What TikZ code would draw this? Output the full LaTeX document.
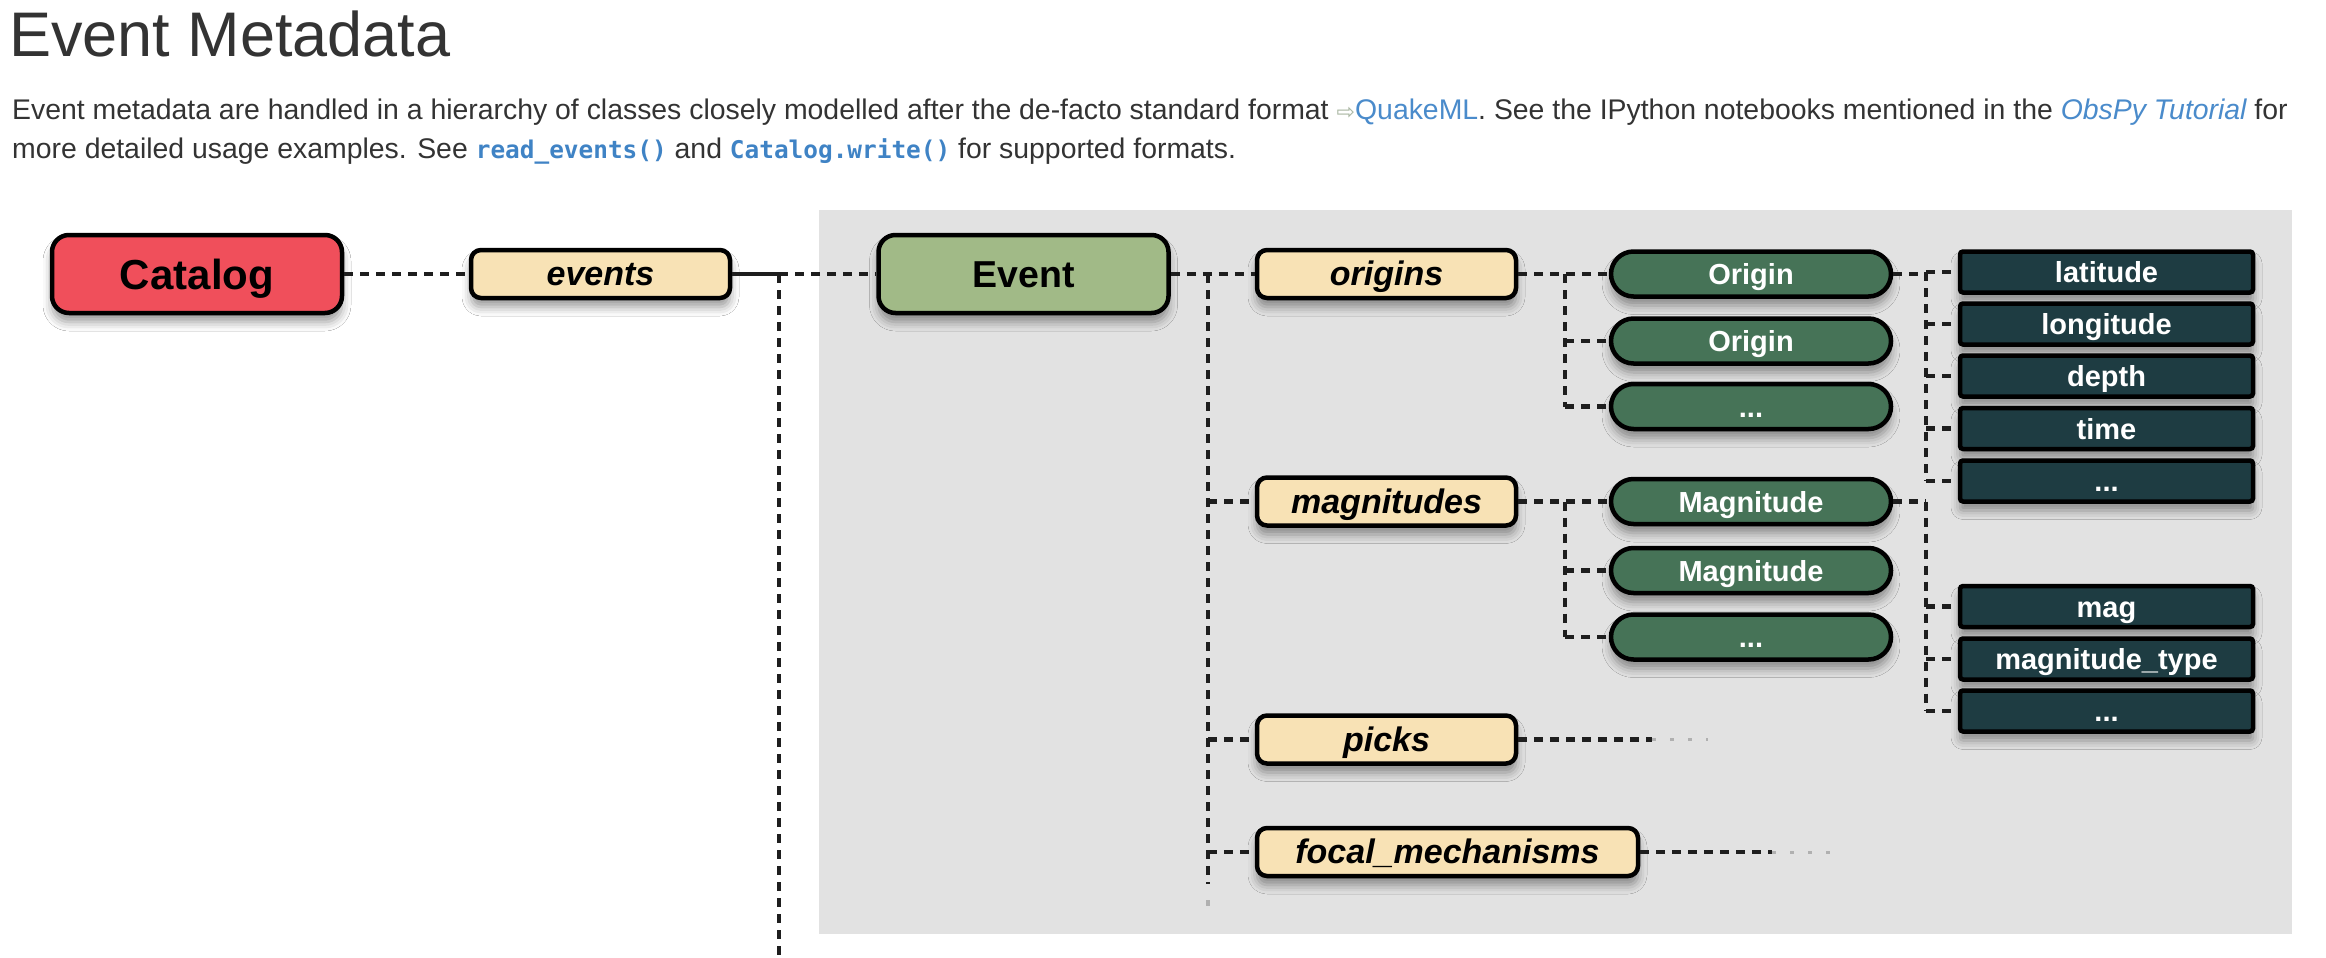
\documentclass[tikz,border=0pt]{standalone}
\usepackage{fontspec}
\setmainfont{Liberation Sans}
\newfontfamily\codefont{DejaVu Sans Mono}
\newfontfamily\symfont{DejaVu Sans}
\usetikzlibrary{shapes.misc,shadows.blur,calc}
\definecolor{catred}{HTML}{F04F5B}
\definecolor{beige}{HTML}{F8E2B5}
\definecolor{evgreen}{HTML}{A1BA87}
\definecolor{objgreen}{HTML}{467357}
\definecolor{attrteal}{HTML}{1E3C42}
\definecolor{panelgray}{HTML}{E2E2E2}
\definecolor{textcol}{HTML}{333333}
\definecolor{linkblue}{HTML}{4A8BCB}
\definecolor{codeblue}{HTML}{3F83C5}
\definecolor{icongray}{HTML}{A9B6A2}
\definecolor{linecol}{HTML}{1E1E1E}
\definecolor{fadecol}{HTML}{B0B0B0}
\begin{document}
\begin{tikzpicture}[x=1pt,y=-1pt,
  shade/.style={blur shadow={shadow xshift=0pt,shadow yshift=-9pt,shadow blur radius=9pt,shadow opacity=40}},
  basebox/.style={draw=black,line width=4.5pt,inner sep=0pt,text depth=0pt,shade},
  bigbox/.style={basebox,rounded corners=17pt,minimum width=290pt,minimum height=78pt,text height=30pt,
    font=\fontsize{42}{48}\selectfont\bfseries},
  listbox/.style={basebox,fill=beige,rounded corners=10pt,minimum width=259pt,minimum height=48pt,text height=23pt,
    font=\fontsize{34}{40}\selectfont\bfseries\itshape},
  objbox/.style={basebox,rounded rectangle,fill=objgreen,text=white,minimum width=280pt,minimum height=45pt,text height=21pt,
    font=\fontsize{29}{34}\selectfont\bfseries},
  attrbox/.style={basebox,fill=attrteal,text=white,rounded corners=3pt,minimum width=293pt,minimum height=41pt,text height=21pt,
    font=\fontsize{29}{34}\selectfont\bfseries},
  conn/.style={draw=linecol,line width=4.5pt,dash pattern=on 9pt off 7pt},
  fade/.style={draw=fadecol,line width=3pt,dash pattern=on 4pt off 14pt},
  para/.style={anchor=base west,inner sep=0pt,text=textcol,font=\fontsize{28.4}{34}\selectfont}
]
\useasboundingbox (0,0) rectangle (2326,958);
\fill[white] (0,0) rectangle (2326,958);

% heading and paragraph
\node[anchor=base west,inner sep=0pt,text=textcol,font=\fontsize{63}{72}\selectfont] (title) at (9,57) {Event Metadata};
\node[para] (line1) at (12,119) {Event metadata are handled in a hierarchy of classes closely modelled after the de-facto standard format {\color{icongray}\symfont\fontsize{22}{26}\selectfont ⇨}{\color{linkblue}QuakeML}. See the IPython notebooks mentioned in the {\color{linkblue}\itshape ObsPy Tutorial} for};
\node[para] (line2) at (12,158) {more detailed usage examples. See {\codefont\bfseries\fontsize{24.4}{30}\selectfont\color{codeblue}read\_events()} and {\codefont\bfseries\fontsize{24.4}{30}\selectfont\color{codeblue}Catalog.write()} for supported formats.};

% panel
\fill[panelgray] (819,210) rectangle (2292,934);

% nodes
\node[bigbox,fill=catred] (catalog) at (197,274) {Catalog};
\node[listbox] (events) at (600.5,274) {events};
\node[bigbox,fill=evgreen,text height=27pt,font=\fontsize{37.5}{44}\selectfont\bfseries] (event) at (1023.5,274) {Event};

\node[listbox] (origins) at (1386.5,274) {origins};
\node[listbox] (magnitudes) at (1386.5,501.5) {magnitudes};
\node[listbox] (picks) at (1386.5,739.5) {picks};
\node[listbox,minimum width=381pt] (focal) at (1447.5,852) {focal\_mechanisms};

\node[objbox] (or1) at (1751,274) {Origin};
\node[objbox] (or2) at (1751,341) {Origin};
\node[objbox] (or3) at (1751,406.5) {...};
\node[objbox] (mg1) at (1751,501.5) {Magnitude};
\node[objbox] (mg2) at (1751,570.5) {Magnitude};
\node[objbox] (mg3) at (1751,637) {...};

\node[attrbox] (lat) at (2106.5,272) {latitude};
\node[attrbox] (lon) at (2106.5,324) {longitude};
\node[attrbox] (dep) at (2106.5,376) {depth};
\node[attrbox] (tim) at (2106.5,428.5) {time};
\node[attrbox] (od) at (2106.5,481) {...};
\node[attrbox] (mag) at (2106.5,606.5) {mag};
\node[attrbox] (mty) at (2106.5,659) {magnitude\_type};
\node[attrbox] (md) at (2106.5,711) {...};

% bus coordinates
\coordinate (busA) at (779,274);
\coordinate (busAend) at (779,958);
\coordinate (busB) at (1208,274);
\coordinate (busBend) at (1208,884);
\coordinate (busBdot) at (1208,903);
\coordinate (busC) at (1565,274);
\coordinate (busD) at (1565,501.5);
\coordinate (busE) at (1926,274);
\coordinate (busF) at (1926,501.5);
\coordinate (pickend) at (1652,739.5);
\coordinate (pickfade) at (1708,739.5);
\coordinate (focend) at (1772,852);
\coordinate (focfade) at (1830,852);

% connectors
\draw[conn] (catalog.east) -- (events.west);
\draw[draw=linecol,line width=4.5pt] (events.east) -- (busA);
\draw[conn] (busA) -- (event.west);
\draw[conn] (busA) -- (busAend);

\draw[conn] (event.east) -- (origins.west);
\draw[conn] (busB) -- (busBend);
\fill[fadecol] ($(busBdot)+(-2,-3)$) rectangle ($(busBdot)+(2,3)$);
\draw[conn] (busB |- magnitudes.west) -- (magnitudes.west);
\draw[conn] (busB |- picks.west) -- (picks.west);
\draw[conn] (busB |- focal.west) -- (focal.west);

\draw[conn] (origins.east) -- (or1.west);
\draw[conn] (busC) -- (busC |- or3.west);
\draw[conn] (busC |- or2.west) -- (or2.west);
\draw[conn] (busC |- or3.west) -- (or3.west);

\draw[conn] (magnitudes.east) -- (mg1.west);
\draw[conn] (busD) -- (busD |- mg3.west);
\draw[conn] (busD |- mg2.west) -- (mg2.west);
\draw[conn] (busD |- mg3.west) -- (mg3.west);

\draw[conn] (or1.east) -- (busE);
\draw[conn] (busE |- lat.west) -- (busE |- od.west);
\draw[conn] (busE |- lat.west) -- (lat.west);
\draw[conn] (busE |- lon.west) -- (lon.west);
\draw[conn] (busE |- dep.west) -- (dep.west);
\draw[conn] (busE |- tim.west) -- (tim.west);
\draw[conn] (busE |- od.west) -- (od.west);

\draw[conn] (mg1.east) -- (busF);
\draw[conn] (busF) -- (busF |- md.west);
\draw[conn] (busF |- mag.west) -- (mag.west);
\draw[conn] (busF |- mty.west) -- (mty.west);
\draw[conn] (busF |- md.west) -- (md.west);

\draw[conn] (picks.east) -- (pickend);
\draw[fade] (pickend) -- (pickfade);
\draw[conn] (focal.east) -- (focend);
\draw[fade] (focend) -- (focfade);
\end{tikzpicture}
\end{document}
